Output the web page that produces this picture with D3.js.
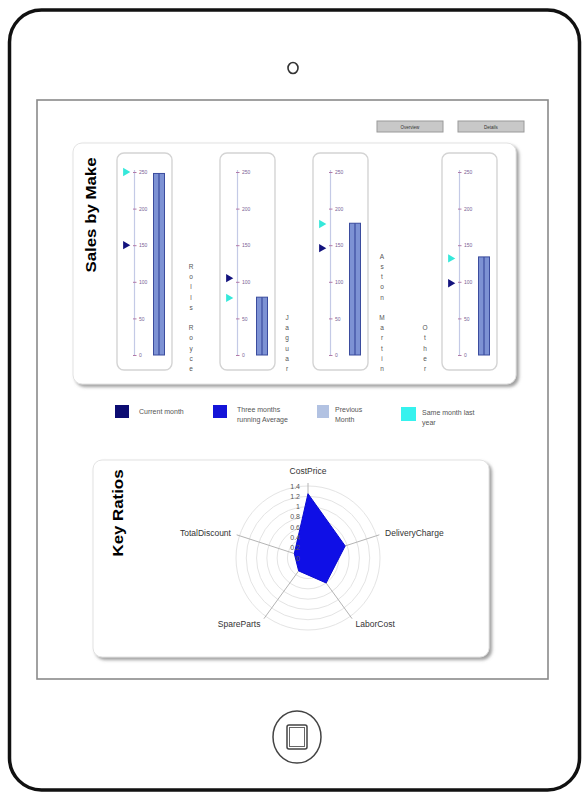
<!DOCTYPE html>
<html>
<head>
<meta charset="utf-8">
<script src="https://cdn.jsdelivr.net/npm/d3@7"></script>
<style>
  html, body { margin: 0; padding: 0; background: #fff; }
  svg { display: block; font-family: "Liberation Sans", Arial, sans-serif; }
</style>
</head>
<body>
<svg id="chart" width="582" height="793"></svg>
<script>
// ---- Sales by make (bullet gauges) ----
const makes = ["Rolls Royce", "Jaguar", "Aston Martin", "Other"];
const currentMonth = [150, 105, 146, 98];
const previousMonth = [248, 79, 180, 134];
const sameMonthLastYear = [250, 78, 179, 132];
const gaugeTicks = [0, 50, 100, 150, 200, 250];

const legendLabels = [["Current month"], ["Three months", "running Average"], ["Previous", "Month"], ["Same month last", "year"]];
const legendColors = ["#0c0c72", "#1414d8", "#b2c2e2", "#36f2ee"];

// ---- Key ratios (radar) ----
const ratioAxes = ["CostPrice", "DeliveryCharge", "LaborCost", "SpareParts", "TotalDiscount"];
const ratioValues = [1.25, 0.76, 0.6, 0.31, 0.28];
const ratioTicks = [0, 0.2, 0.4, 0.6, 0.8, 1, 1.2, 1.4];

const buttonLabels = ["Overview", "Details"];

const svg = d3.select("#chart");
const defs = svg.append("defs");
const shadow = defs.append("filter").attr("id", "shadow")
  .attr("x", "-5%").attr("y", "-5%").attr("width", "115%").attr("height", "115%");
shadow.append("feDropShadow").attr("dx", 2.5).attr("dy", 2.5)
  .attr("stdDeviation", 1.6).attr("flood-color", "#888").attr("flood-opacity", 0.8);

// Tablet frame
svg.append("rect").attr("x", 9.5).attr("y", 10).attr("width", 570).attr("height", 780)
  .attr("rx", 32).attr("fill", "#fff").attr("stroke", "#111").attr("stroke-width", 3.5);
svg.append("ellipse").attr("cx", 293).attr("cy", 68).attr("rx", 5).attr("ry", 5.5)
  .attr("fill", "none").attr("stroke", "#333").attr("stroke-width", 1.6);
svg.append("ellipse").attr("cx", 297).attr("cy", 737).attr("rx", 24).attr("ry", 26)
  .attr("fill", "none").attr("stroke", "#444").attr("stroke-width", 1.5);
svg.append("rect").attr("x", 287).attr("y", 725).attr("width", 20).attr("height", 24).attr("rx", 2)
  .attr("fill", "none").attr("stroke", "#444").attr("stroke-width", 1.5);
svg.append("rect").attr("x", 289.5).attr("y", 727.5).attr("width", 15).attr("height", 19)
  .attr("fill", "none").attr("stroke", "#666").attr("stroke-width", 1);

// Screen
svg.append("rect").attr("x", 37).attr("y", 100).attr("width", 511).attr("height", 579)
  .attr("fill", "#fff").attr("stroke", "#8a8a8a").attr("stroke-width", 1.6);

// Navigation buttons
const btn = svg.append("g").selectAll("g").data(buttonLabels).join("g")
  .attr("transform", (d, i) => `translate(${377 + i * 81},121)`);
btn.append("rect").attr("width", 66).attr("height", 11).attr("fill", "#c8c8c8")
  .attr("stroke", "#9a9a9a").attr("stroke-width", 1);
btn.append("text").attr("x", 33).attr("y", 7.5).attr("text-anchor", "middle")
  .attr("font-size", 4.5).attr("fill", "#333").text(d => d);

// Sales by Make panel
svg.append("rect").attr("x", 73).attr("y", 143).attr("width", 443).attr("height", 241)
  .attr("rx", 9).attr("fill", "#fff").attr("stroke", "#e2e2e2").attr("filter", "url(#shadow)");
svg.append("text").attr("transform", "translate(96,215) rotate(-90)")
  .attr("text-anchor", "middle").attr("font-size", 15).attr("font-weight", "bold")
  .attr("textLength", 115).attr("lengthAdjust", "spacingAndGlyphs")
  .attr("fill", "#000").text("Sales by Make");

const gaugeLeft = [117, 220, 313, 442];
const labelX = [191, 287, 382, 425];
const y = d3.scaleLinear().domain([0, 250]).range([355, 172]);

makes.forEach((make, i) => {
  const g = svg.append("g").attr("transform", `translate(${gaugeLeft[i]},0)`);
  g.append("rect").attr("x", 0).attr("y", 153).attr("width", 55).attr("height", 217)
    .attr("rx", 7).attr("fill", "#fff").attr("stroke", "#d4d4d4").attr("stroke-width", 1.4);

  // scale line and ticks
  const axis = d3.axisRight(y).tickValues(gaugeTicks).tickSize(3).tickPadding(1.5);
  const ax = g.append("g").attr("transform", "translate(17.5,0)").call(axis);
  ax.select(".domain").attr("stroke", "#c4cae6").attr("stroke-width", 1.2)
    .attr("d", `M0,${y(0)}V${y(250) - 2}`);
  ax.selectAll(".tick line").attr("stroke", "#b27aa8").attr("x1", -1.5).attr("x2", 2);
  ax.selectAll(".tick text").attr("font-size", 5).attr("fill", "#7a5f96")
    .attr("font-family", "Liberation Sans, Arial, sans-serif");

  // bar
  const bx = 36.5, bw = 11;
  g.append("rect").attr("x", bx).attr("y", y(previousMonth[i])).attr("width", bw)
    .attr("height", y(0) - y(previousMonth[i])).attr("fill", "#7d92d4")
    .attr("stroke", "#3b4c9e").attr("stroke-width", 1);
  g.append("line").attr("x1", bx + bw / 2).attr("x2", bx + bw / 2)
    .attr("y1", y(previousMonth[i])).attr("y2", y(0))
    .attr("stroke", "#3b4c9e").attr("stroke-width", 1.2);

  // markers
  const tri = d3.symbol().type(d3.symbolTriangle).size(30);
  g.append("path").attr("d", tri()).attr("fill", "#35e8da")
    .attr("transform", `translate(8.5,${y(sameMonthLastYear[i])}) rotate(90)`);
  g.append("path").attr("d", tri()).attr("fill", "#13137e")
    .attr("transform", `translate(8.5,${y(currentMonth[i])}) rotate(90)`);

  // stacked category letters
  const letters = make.split("");
  const n = letters.length;
  svg.append("text").attr("font-size", 6.5).attr("fill", "#555").attr("text-anchor", "middle")
    .selectAll("tspan").data(letters).join("tspan")
    .attr("x", labelX[i]).attr("y", (d, k) => 371 - (n - 1 - k) * 10.2)
    .text(d => d);
});

// Legend
const lgX = [115, 213, 317, 401];
const lg = svg.append("g").selectAll("g").data(legendLabels).join("g")
  .attr("transform", (d, i) => `translate(${lgX[i]},405)`);
lg.append("rect").attr("width", (d, i) => i === 3 ? 15 : (i === 2 ? 12 : 14))
  .attr("height", (d, i) => i === 3 ? 14 : 13)
  .attr("y", (d, i) => i === 3 ? 2 : 0)
  .attr("fill", (d, i) => legendColors[i]);
lg.each(function (lines, i) {
  const t = d3.select(this).append("text").attr("font-size", 7).attr("fill", "#555");
  t.selectAll("tspan").data(lines).join("tspan")
    .attr("x", i === 3 ? 21 : (i === 2 ? 18 : 24))
    .attr("y", (d, k) => (lines.length === 1 ? 9 : 7) + (i === 3 ? 3 : 0) + k * 10)
    .text(d => d);
});

// Key Ratios panel
svg.append("rect").attr("x", 93).attr("y", 460).attr("width", 396).attr("height", 197)
  .attr("rx", 9).attr("fill", "#fff").attr("stroke", "#e2e2e2").attr("filter", "url(#shadow)");
svg.append("text").attr("transform", "translate(123,513) rotate(-90)")
  .attr("text-anchor", "middle").attr("font-size", 15).attr("font-weight", "bold")
  .attr("textLength", 87).attr("lengthAdjust", "spacingAndGlyphs")
  .attr("fill", "#000").text("Key Ratios");

const cx = 308, cy = 558, R = 72;
const r = d3.scaleLinear().domain([0, 1.4]).range([0, R]);
const angle = d3.scalePoint().domain(ratioAxes.concat("_")).range([0, 2 * Math.PI]);
const radar = svg.append("g").attr("transform", `translate(${cx},${cy})`);

radar.selectAll("circle.grid").data(ratioTicks.filter(t => t > 0)).join("circle")
  .attr("class", "grid").attr("r", d => r(d)).attr("fill", "none")
  .attr("stroke", "#e4e4e4").attr("stroke-width", 1);

radar.selectAll("line.spoke").data(ratioAxes).join("line").attr("class", "spoke")
  .attr("x2", d => Math.sin(angle(d)) * (R + 3))
  .attr("y2", d => -Math.cos(angle(d)) * (R + 3))
  .attr("stroke", "#b4b4b4").attr("stroke-width", 1);

const area = d3.lineRadial().angle((d, i) => angle(ratioAxes[i])).radius(d => r(d))
  .curve(d3.curveLinearClosed);
radar.append("path").attr("d", area(ratioValues)).attr("fill", "#0f0fe6")
  .attr("stroke", "#0a0ad0").attr("stroke-width", 1);

radar.selectAll("text.tick").data(ratioTicks).join("text").attr("class", "tick")
  .attr("x", -8).attr("y", d => -r(d) + 2.5).attr("text-anchor", "end")
  .attr("font-size", 7).attr("fill", "#555")
  .text(d => d3.format("~g")(d));

radar.selectAll("text.axis").data(ratioAxes).join("text").attr("class", "axis")
  .attr("x", d => Math.sin(angle(d)) * (R + 9))
  .attr("y", d => {
    const a = angle(d);
    const base = -Math.cos(a) * (R + 9);
    return a === 0 ? base - 3 : base + 3;
  })
  .attr("text-anchor", d => {
    const s = Math.sin(angle(d));
    return Math.abs(s) < 0.01 ? "middle" : (s > 0 ? "start" : "end");
  })
  .attr("font-size", 8.5).attr("fill", "#333").text(d => d);
</script>
</body>
</html>
